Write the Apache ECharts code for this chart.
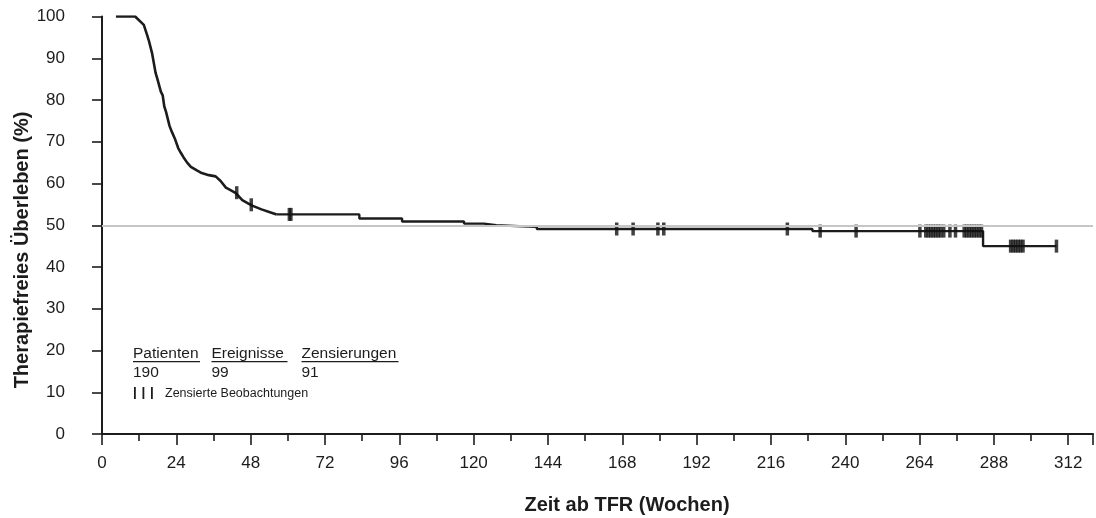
<!DOCTYPE html>
<html>
<head>
<meta charset="utf-8">
<script src="https://cdn.jsdelivr.net/npm/echarts@6/dist/echarts.min.js"></script>
<style>
html,body{margin:0;padding:0;background:#fff;}
#chart{width:1096px;height:518px;}
</style>
</head>
<body>
<div id="chart"></div>
<script>
// Kaplan-Meier curve, early steep part (many tiny steps, read as a continuous trace): [weeks, percent]
const earlyWeeks = [4.5, 10.7, 13.5, 14.6, 15.1, 16.2, 17.3, 17.9, 19.0, 19.6, 20.1, 20.7, 21.8, 22.6, 23.5, 24.6, 25.5, 26.3, 27.5, 28.7, 30.5, 32.2, 34.5, 36.7, 38.3, 40.0, 41.5, 43.2, 45.3, 47.0, 48.5, 51.5, 54.0, 56.4];
const earlySurvival = [100, 100, 98.0, 95.5, 94.3, 91.1, 86.5, 85.0, 82.0, 81.1, 78.5, 77.1, 73.8, 72.3, 70.8, 68.5, 67.3, 66.3, 65.0, 64.0, 63.2, 62.5, 62.0, 61.7, 60.6, 59.0, 58.4, 57.7, 56.0, 55.3, 54.7, 53.8, 53.2, 52.6];
// later part with visible steps (value after the drop at that week)
const stepWeeks = [56.4, 83.1, 96.9, 116.9, 123.3, 127.3, 140.4, 229.4, 284.5, 308.2];
const stepSurvival = [52.6, 51.6, 50.9, 50.4, 50.0, 49.6, 49.1, 48.6, 45.0, 45.0];

// censored observations
const censorWeeks = [43.5, 48.2, 60.5, 61.0, 166.2, 171.5, 179.5, 181.4, 221.3, 231.9, 243.5, 264.1,
  266.0, 266.8, 267.6, 268.4, 269.2, 270.0, 270.8, 271.8, 273.8, 275.6,
  278.4, 279.2, 280.0, 280.8, 281.6, 282.4, 283.2, 284.0,
  293.4, 294.2, 295.0, 295.8, 296.6, 297.4, 308.2];
const censorSurvival = [57.8, 54.9, 52.6, 52.6, 49.1, 49.1, 49.1, 49.1, 49.1, 48.6, 48.6, 48.6,
  48.6, 48.6, 48.6, 48.6, 48.6, 48.6, 48.6, 48.6, 48.6, 48.6,
  48.6, 48.6, 48.6, 48.6, 48.6, 48.6, 48.6, 48.6,
  45.0, 45.0, 45.0, 45.0, 45.0, 45.0, 45.0];

const referenceLevel = 50;
const xTicks = { min: 0, max: 320, interval: 24 };
const yTicks = { min: 0, max: 100, interval: 10 };

const legendHeaders = ['Patienten', 'Ereignisse', 'Zensierungen'];
const legendValues = ['190', '99', '91'];
const censorLabel = 'Zensierte Beobachtungen';
const xTitle = 'Zeit ab TFR (Wochen)';
const yTitle = 'Therapiefreies Überleben (%)';

const FONT = "'Liberation Sans', Arial, sans-serif";
const INK = '#1c1c1c';

const chart = echarts.init(document.getElementById('chart'), null, { renderer: 'canvas' });

const headerX = [133, 211.5, 301.5];
const headerW = [67, 76, 97];

const graphics = [];
legendHeaders.forEach((h, i) => {
  graphics.push({ type: 'text', left: headerX[i], top: 345.5, style: { text: h, font: '15.5px ' + FONT, fill: INK } });
  graphics.push({ type: 'rect', shape: { x: headerX[i], y: 361, width: headerW[i], height: 1.3 }, style: { fill: INK } });
  graphics.push({ type: 'text', left: headerX[i], top: 364.5, style: { text: legendValues[i], font: '15.5px ' + FONT, fill: INK } });
});
[134, 142.5, 151].forEach(x => {
  graphics.push({ type: 'rect', shape: { x: x, y: 387, width: 1.8, height: 12 }, style: { fill: INK } });
});
graphics.push({ type: 'text', left: 165, top: 387, style: { text: censorLabel, font: '12.5px ' + FONT, fill: INK } });
graphics.push({ type: 'text', x: 627, y: 505, style: { text: xTitle, font: 'bold 20px ' + FONT, fill: INK, align: 'center', verticalAlign: 'middle' } });
graphics.push({ type: 'text', x: 22, y: 250, rotation: Math.PI / 2, style: { text: yTitle, font: 'bold 20px ' + FONT, fill: INK, align: 'center', verticalAlign: 'middle' } });

const option = {
  backgroundColor: '#fff',
  animation: false,
  grid: { left: 102, right: 0, top: 16.5, bottom: 84, containLabel: false },
  xAxis: {
    type: 'value',
    min: xTicks.min, max: xTicks.max, interval: xTicks.interval,
    axisLine: { show: true, lineStyle: { color: INK, width: 2 } },
    axisTick: { show: true, length: 11, lineStyle: { color: INK, width: 1.6 } },
    minorTick: { show: true, splitNumber: 2, length: 7, lineStyle: { color: INK, width: 1.6 } },
    splitLine: { show: false },
    minorSplitLine: { show: false },
    axisLabel: {
      margin: 21, fontSize: 17, fontFamily: FONT, color: INK,
      formatter: v => (v % xTicks.interval === 0 ? String(v) : '')
    }
  },
  yAxis: {
    type: 'value',
    min: yTicks.min, max: yTicks.max, interval: yTicks.interval,
    axisLine: { show: true, lineStyle: { color: INK, width: 2 } },
    axisTick: { show: true, length: 10, lineStyle: { color: INK, width: 1.6 } },
    splitLine: { show: false },
    axisLabel: { margin: 37, fontSize: 17, fontFamily: FONT, color: INK }
  },
  graphic: graphics,
  series: [
    {
      name: 'Referenz',
      type: 'line',
      data: [],
      z: 1,
      silent: true,
      markLine: {
        silent: true,
        symbol: ['none', 'none'],
        label: { show: false },
        lineStyle: { color: '#c6c6c6', width: 2, type: 'solid' },
        data: [{ yAxis: referenceLevel }]
      }
    },
    {
      name: 'KM früh',
      type: 'line',
      showSymbol: false,
      z: 3,
      lineStyle: { color: INK, width: 2.6, join: 'round' },
      data: earlyWeeks.map((w, i) => [w, earlySurvival[i]])
    },
    {
      name: 'KM',
      type: 'line',
      step: 'end',
      showSymbol: false,
      z: 3,
      lineStyle: { color: INK, width: 2.4 },
      data: stepWeeks.map((w, i) => [w, stepSurvival[i]])
    },
    {
      name: 'Zensiert',
      type: 'scatter',
      symbol: 'rect',
      symbolSize: [3.5, 13],
      z: 4,
      itemStyle: { color: '#111' },
      data: censorWeeks.map((w, i) => [w, censorSurvival[i]])
    }
  ]
};
chart.setOption(option);
</script>
</body>
</html>
